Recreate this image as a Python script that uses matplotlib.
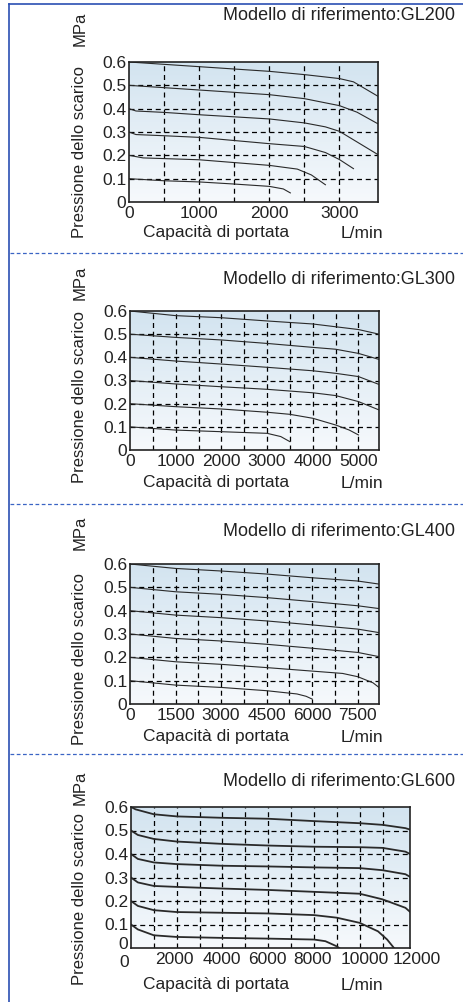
import numpy as np
import matplotlib.pyplot as plt
from matplotlib.colors import LinearSegmentedColormap
from matplotlib.lines import Line2D
from matplotlib.transforms import ScaledTranslation

plt.rcParams['font.family'] = ['Liberation Sans', 'DejaVu Sans']

# ---- data (flow L/min, outlet pressure MPa) ----
gl200_curves = [
    ([0, 500, 1000, 2000, 2500, 3000, 3200, 3550], [0.6, 0.59, 0.58, 0.56, 0.546, 0.529, 0.515, 0.453]),
    ([0, 500, 1000, 2000, 2500, 3000, 3250, 3550], [0.5, 0.49, 0.48, 0.46, 0.443, 0.413, 0.385, 0.335]),
    ([0, 100, 500, 1000, 2000, 2500, 2800, 3000, 3550], [0.4, 0.39, 0.384, 0.374, 0.356, 0.339, 0.322, 0.303, 0.203]),
    ([0, 100, 500, 1000, 2000, 2500, 2800, 3000, 3200], [0.3, 0.289, 0.284, 0.277, 0.25, 0.238, 0.212, 0.182, 0.143]),
    ([0, 200, 1000, 2000, 2400, 2600, 2700, 2800], [0.2, 0.189, 0.181, 0.157, 0.141, 0.116, 0.095, 0.074]),
    ([0, 500, 1000, 1500, 2000, 2200, 2300], [0.1, 0.091, 0.086, 0.077, 0.067, 0.056, 0.039]),
]
gl300_curves = [
    ([0, 1000, 2000, 3000, 4000, 4500, 5000, 5450], [0.6, 0.58, 0.571, 0.557, 0.544, 0.532, 0.52, 0.5]),
    ([0, 1000, 2000, 3000, 4000, 4500, 5000, 5450], [0.5, 0.486, 0.475, 0.46, 0.443, 0.435, 0.417, 0.391]),
    ([0, 1000, 2000, 3000, 4000, 4500, 5000, 5450], [0.4, 0.384, 0.371, 0.357, 0.342, 0.331, 0.317, 0.283]),
    ([0, 1000, 2000, 3000, 4000, 4500, 5000, 5450], [0.3, 0.285, 0.273, 0.262, 0.247, 0.235, 0.209, 0.173]),
    ([0, 1000, 2000, 3000, 3500, 4000, 4500, 4800, 5000], [0.2, 0.187, 0.177, 0.163, 0.154, 0.137, 0.108, 0.086, 0.065]),
    ([0, 1000, 2000, 3000, 3300, 3500], [0.1, 0.086, 0.079, 0.072, 0.058, 0.036]),
]
gl400_curves = [
    ([0, 1500, 3000, 4500, 6000, 7500, 8200], [0.6, 0.581, 0.57, 0.557, 0.541, 0.527, 0.514]),
    ([0, 1500, 3000, 4500, 6000, 7500, 8200], [0.5, 0.481, 0.47, 0.456, 0.439, 0.421, 0.409]),
    ([0, 1500, 3000, 4500, 6000, 7500, 8200], [0.4, 0.381, 0.37, 0.356, 0.339, 0.321, 0.306]),
    ([0, 1500, 3000, 4500, 6000, 7500, 8200], [0.3, 0.281, 0.27, 0.256, 0.239, 0.221, 0.203]),
    ([0, 1500, 3000, 4500, 6000, 7000, 7500, 8000, 8200], [0.2, 0.181, 0.17, 0.156, 0.141, 0.131, 0.117, 0.091, 0.071]),
    ([0, 1500, 3000, 4500, 5500, 5800, 6000], [0.1, 0.081, 0.071, 0.057, 0.043, 0.033, 0.021]),
]
gl600_curves = [
    ([0, 200, 1000, 2000, 4000, 6000, 8000, 10000, 11000, 12000, 12200], [0.6, 0.59, 0.569, 0.56, 0.554, 0.55, 0.54, 0.531, 0.524, 0.51, 0.504]),
    ([0, 300, 1000, 2000, 4000, 6000, 8000, 10000, 11000, 12000, 12200], [0.5, 0.481, 0.464, 0.453, 0.443, 0.436, 0.431, 0.429, 0.426, 0.41, 0.4]),
    ([0, 300, 1000, 2000, 4000, 6000, 8000, 10000, 11000, 12000, 12200], [0.4, 0.379, 0.364, 0.357, 0.35, 0.347, 0.343, 0.34, 0.331, 0.314, 0.303]),
    ([0, 300, 1000, 2000, 4000, 6000, 8000, 10000, 11000, 12000, 12200], [0.3, 0.279, 0.264, 0.26, 0.253, 0.247, 0.239, 0.231, 0.207, 0.171, 0.154]),
    ([0, 300, 1000, 2000, 4000, 6000, 8000, 9000, 10000, 10800, 11200, 11500], [0.2, 0.179, 0.161, 0.153, 0.15, 0.147, 0.14, 0.129, 0.107, 0.071, 0.036, 0.0]),
    ([0, 300, 1000, 2000, 4000, 6000, 8000, 8500, 9000, 9100], [0.1, 0.079, 0.054, 0.047, 0.043, 0.04, 0.036, 0.029, 0.007, 0.0]),
]

titles = ['GL200', 'GL300', 'GL400', 'GL600']
x_max = [3550, 5450, 8200, 12200]
x_ticks = [[0, 1000, 2000, 3000],
           [0, 1000, 2000, 3000, 4000, 5000],
           [0, 1500, 3000, 4500, 6000, 7500],
           [0, 2000, 4000, 6000, 8000, 10000, 12000]]
x_grid_step = [500, 500, 750, 1000]
x_grid_last = [3000, 5000, 7500, 11000]
y_ticks = [0, 0.1, 0.2, 0.3, 0.4, 0.5, 0.6]
y_labels = ['0', '0.1', '0.2', '0.3', '0.4', '0.5', '0.6']

# ---- layout (pixels) ----
W, H = 464, 1002
fig = plt.figure(figsize=(W / 100, H / 100), dpi=100)
fig.patch.set_facecolor('white')

boxes = [(129, 62, 378, 202), (130, 311, 379, 450), (130, 564, 379, 704), (131, 807, 410, 948)]
title_y = [15, 280, 532, 782]
mpa_y = [29, 283, 533, 788]
press_bottom = [238, 483, 745, 985]
xlab_y = [233, 483, 737, 985]
line_w = [0.8, 0.8, 0.8, 1.3]
all_curves = [gl200_curves, gl300_curves, gl400_curves, gl600_curves]
# small nudges (px) of the last panel's tick labels, as in the reference
gl600_xlabel_dx = [-7, -2, -1, -1, -1, 5, 11]
gl600_xlabel_dy = [-3, 0, 0, 0, 0, 0, 0]
gl600_ylabel_dy = [5, 0, 0, 0, 0, 0, 0]

grad = LinearSegmentedColormap.from_list('bg', ['#f6f9fc', '#d3e4f0'])
blue = '#3a64c4'
ink = '#222222'
fs = 12.5

def fx(x):
    return x / W

def fy(y):
    return 1 - y / H

def nudge(lab, dx, dy):
    lab.set_transform(lab.get_transform() +
                      ScaledTranslation(dx / 100, dy / 100, fig.dpi_scale_trans))

for i in range(4):
    l, t, r, b = boxes[i]
    ax = fig.add_axes([l / W, 1 - b / H, (r - l) / W, (b - t) / H])
    ax.set_xlim(0, x_max[i])
    ax.set_ylim(0, 0.6)
    ax.imshow(np.linspace(0, 1, 100).reshape(-1, 1), cmap=grad, origin='lower',
              extent=[0, x_max[i], 0, 0.6], aspect='auto', zorder=0)
    for gx in np.arange(x_grid_step[i], x_grid_last[i] + 1, x_grid_step[i]):
        ax.axvline(gx, color='black', lw=0.9, ls=(0, (4, 3)), zorder=1)
    for gy in y_ticks[1:-1]:
        ax.axhline(gy, color='black', lw=0.9, ls=(0, (4, 3)), zorder=1)
    for xs, ys in all_curves[i]:
        ax.plot(xs, ys, color='#2a2a2a', lw=line_w[i], zorder=2)
    ax.set_xticks(x_ticks[i])
    ax.set_xticklabels([str(v) for v in x_ticks[i]])
    ax.set_yticks(y_ticks)
    ax.set_yticklabels(y_labels)
    ax.tick_params(length=0, labelsize=fs, colors=ink)
    ax.tick_params(axis='x', pad=3)
    ax.tick_params(axis='y', pad=2)
    for s in ax.spines.values():
        s.set_linewidth(1.2)
        s.set_color(ink)
    if i == 3:
        for lab, dx, dy in zip(ax.get_xticklabels(), gl600_xlabel_dx, gl600_xlabel_dy):
            nudge(lab, dx, dy)
        for lab, dy in zip(ax.get_yticklabels(), gl600_ylabel_dy):
            nudge(lab, 0, dy)

    fig.text(fx(455), fy(title_y[i]), 'Modello di riferimento:' + titles[i],
             ha='right', va='center', fontsize=13, color=ink)
    fig.text(fx(80), fy(mpa_y[i]), 'MPa', rotation=90, ha='center', va='center',
             fontsize=12, color=ink)
    fig.text(fx(80), fy(press_bottom[i]), 'Pressione dello scarico', rotation=90,
             ha='center', va='bottom', fontsize=12, color=ink)
    fig.text(fx(216), fy(xlab_y[i]), 'Capacità di portata', ha='center', va='center',
             fontsize=fs, color=ink)
    fig.text(fx(362), fy(xlab_y[i]), 'L/min', ha='center', va='center',
             fontsize=fs, color=ink)

# frame lines and section separators
fig.add_artist(Line2D([fx(9), 1], [fy(4), fy(4)], color='#2b4fb3', lw=1.2))
fig.add_artist(Line2D([fx(9), fx(9)], [fy(4), 0], color='#2b4fb3', lw=1.2))
for sy in [253, 504, 754]:
    fig.add_artist(Line2D([fx(10), 1], [fy(sy), fy(sy)], color=blue, lw=0.9,
                          ls=(0, (3, 2))))

fig.savefig('out.png', dpi=100)
